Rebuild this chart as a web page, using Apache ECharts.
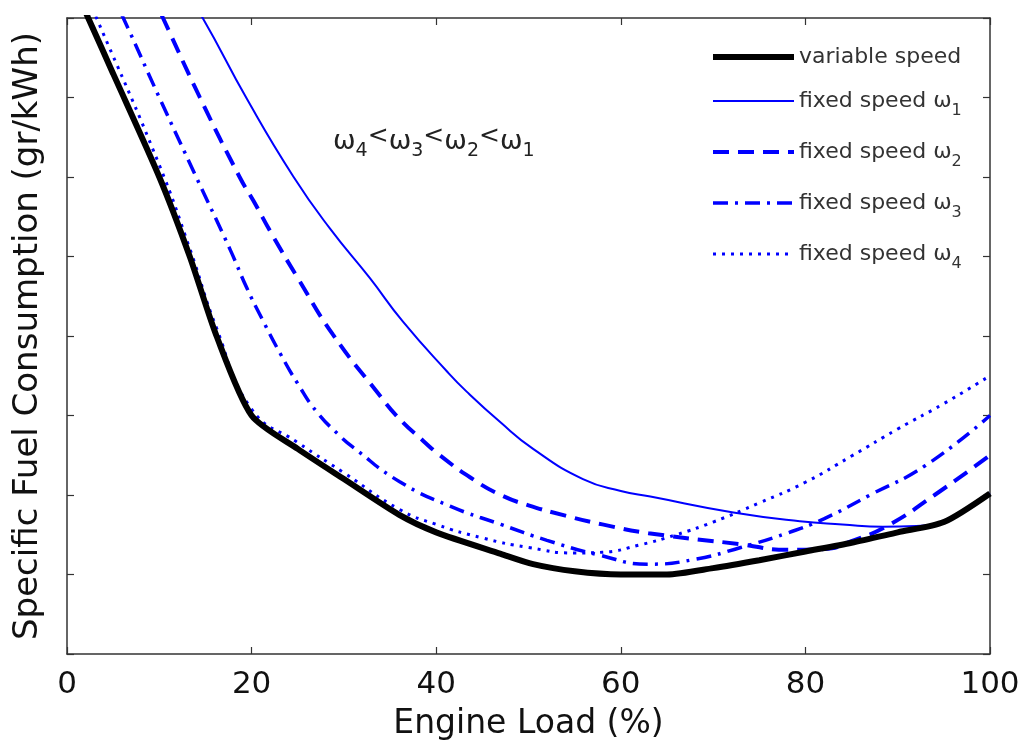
<!DOCTYPE html>
<html>
<head>
<meta charset="utf-8">
<script src="https://cdn.jsdelivr.net/npm/echarts@6/dist/echarts.min.js"></script>
<style>html,body{margin:0;padding:0;background:#fff;width:1023px;height:746px;overflow:hidden;}#chart{width:1023px;height:746px;}</style>
</head>
<body>
<div id="chart"></div>
<script>
// Engine load (%) and specific fuel consumption (axis units, 8 intervals, unlabeled)
const loadVariable = [0, 2.3, 5, 10, 13.3, 16.2, 20, 25, 30, 36, 40, 47, 50.5, 55, 60, 65, 70, 75, 80, 85, 90, 95, 100];
const sfcVariable  = [8.6, 8.0, 7.3, 6.0, 5.0, 4.0, 3.0, 2.58, 2.2, 1.75, 1.53, 1.26, 1.13, 1.04, 1.0, 1.0, 1.08, 1.18, 1.29, 1.4, 1.53, 1.66, 2.02];

const loadW1 = [0, 14.7, 19.5, 24.5, 28.5, 32.8, 36.4, 41.2, 43.3, 46.9, 50.5, 55.9, 60, 63.2, 72.2, 79.4, 84, 88.4, 92, 95, 100];
const sfcW1  = [10.9, 8.0, 6.98, 6.01, 5.35, 4.73, 4.18, 3.55, 3.3, 2.92, 2.58, 2.2, 2.05, 1.98, 1.78, 1.67, 1.63, 1.6, 1.61, 1.68, 2.02];

const loadW2 = [0, 10.4, 14.4, 18.7, 20.2, 22.3, 25, 28.8, 33.7, 36, 38.6, 40.4, 43.7, 47, 50, 54, 58, 63, 73, 78, 82, 85, 89, 94, 100];
const sfcW2  = [10.6, 8.0, 7.0, 6.0, 5.7, 5.26, 4.73, 4.02, 3.28, 2.96, 2.68, 2.5, 2.22, 2.0, 1.87, 1.74, 1.63, 1.52, 1.38, 1.31, 1.32, 1.42, 1.62, 2.0, 2.5];

const loadW3 = [0, 6.1, 10, 14, 17.7, 19.5, 21.2, 23.1, 25, 27.1, 29.6, 31, 36, 41.5, 47, 52, 57.5, 63, 68, 73, 78, 82, 87, 93, 100];
const sfcW3  = [9.5, 8.0, 7.0, 6.0, 5.08, 4.6, 4.2, 3.78, 3.4, 3.04, 2.74, 2.6, 2.17, 1.86, 1.63, 1.43, 1.25, 1.13, 1.19, 1.34, 1.52, 1.7, 2.0, 2.37, 3.0];

const loadW4 = [0, 3.2, 10, 13.3, 16.2, 20, 25, 30, 36, 40, 45, 50, 55, 58, 62, 66, 70, 75, 80, 85, 90, 95, 100];
const sfcW4  = [8.85, 8.0, 6.15, 5.1, 4.1, 3.08, 2.66, 2.28, 1.82, 1.63, 1.46, 1.34, 1.27, 1.28, 1.37, 1.5, 1.66, 1.9, 2.16, 2.49, 2.83, 3.15, 3.5];

const xTicks = [0, 20, 40, 60, 80, 100];
const seriesNames = ['variable speed', 'fixed speed ω1', 'fixed speed ω2', 'fixed speed ω3', 'fixed speed ω4'];

const pairs = (xs, ys) => xs.map((x, i) => [x, ys[i]]);
const FONT = 'DejaVu Sans';
const BLUE = '#0000ff';

const styles = [
  {color: '#000', width: 6, type: 'solid'},
  {color: BLUE, width: 2, type: 'solid'},
  {color: BLUE, width: 4, type: [16, 9]},
  {color: BLUE, width: 3.5, type: [15, 7, 3, 7]},
  {color: BLUE, width: 3, type: [3, 6]}
];

const chart = echarts.init(document.getElementById('chart'), null, {renderer: 'canvas', width: 1023, height: 746});

const axisCommon = {
  type: 'value',
  axisLine: {show: true, onZero: false, lineStyle: {color: '#333', width: 1.5}},
  axisTick: {show: true, inside: true, length: 7, lineStyle: {color: '#333', width: 1.2}},
  splitLine: {show: false}
};

const dataSets = [
  pairs(loadVariable, sfcVariable),
  pairs(loadW1, sfcW1),
  pairs(loadW2, sfcW2),
  pairs(loadW3, sfcW3),
  pairs(loadW4, sfcW4)
];

chart.setOption({
  animation: false,
  backgroundColor: '#fff',
  grid: {left: 67, right: 33, top: 18, bottom: 88, containLabel: false},
  xAxis: [
    Object.assign({}, axisCommon, {
      position: 'bottom', min: 0, max: 100, interval: 20,
      axisLabel: {show: true, fontFamily: FONT, fontSize: 31, color: '#111', margin: 15,
        formatter: v => xTicks.includes(v) ? String(v) : ''},
      name: 'Engine Load (%)', nameLocation: 'middle', nameGap: 54,
      nameTextStyle: {fontFamily: FONT, fontSize: 33, color: '#111'}
    }),
    Object.assign({}, axisCommon, {
      position: 'top', min: 0, max: 100, interval: 20, axisLabel: {show: false}
    })
  ],
  yAxis: [
    Object.assign({}, axisCommon, {
      position: 'left', min: 0, max: 8, interval: 1, axisLabel: {show: false},
      name: 'Specific Fuel Consumption (gr/kWh)', nameLocation: 'middle', nameGap: 22,
      nameTextStyle: {fontFamily: FONT, fontSize: 34, color: '#111'}
    }),
    Object.assign({}, axisCommon, {
      position: 'right', min: 0, max: 8, interval: 1, axisLabel: {show: false}
    })
  ],
  legend: {
    orient: 'vertical', left: 710, top: 46, padding: 0,
    itemWidth: 81, itemHeight: 14, itemGap: 22,
    itemStyle: {opacity: 0},
    data: seriesNames.map((n, i) => ({name: n, lineStyle: {width: styles[i].width, type: styles[i].type, color: styles[i].color}})),
    formatter: name => {
      const m = name.match(/^(.*ω)(\d)$/);
      return m ? m[1] + '{sub|' + m[2] + '}' : name;
    },
    textStyle: {
      fontFamily: FONT, fontSize: 22, color: '#333',
      rich: {sub: {fontFamily: FONT, fontSize: 16, color: '#333', padding: [20, 0, 0, 0]}}
    }
  },
  graphic: [{
    type: 'text', left: 333, top: 124,
    style: {
      text: 'ω{s|4}{lt|<}ω{s|3}{lt|<}ω{s|2}{lt|<}ω{s|1}',
      font: '27px "DejaVu Sans"', fill: '#222',
      rich: {
        s: {fontFamily: FONT, fontSize: 19, fill: '#222', padding: [20, 0, 0, 0]},
        lt: {fontFamily: FONT, fontSize: 25, fill: '#222', padding: [0, 0, 10, 0]}
      }
    }
  }],
  series: seriesNames.map((n, i) => ({
    name: n, type: 'line', data: dataSets[i], showSymbol: false, symbol: 'circle', symbolSize: 0,
    smooth: i === 0 ? 0.25 : 0.5, clip: true,
    color: styles[i].color,
    lineStyle: {color: styles[i].color, width: styles[i].width, type: styles[i].type},
    z: i === 0 ? 5 : 3
  }))
});
</script>
</body>
</html>
